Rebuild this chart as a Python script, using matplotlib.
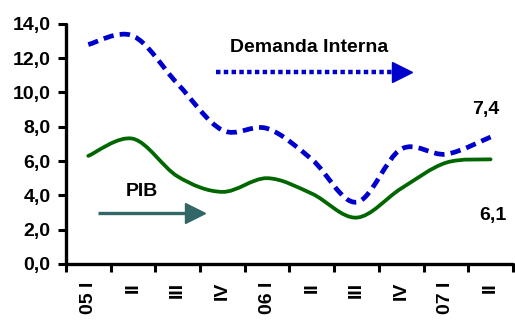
import matplotlib
matplotlib.use("Agg")
import matplotlib.pyplot as plt
from matplotlib.path import Path
from matplotlib.patches import PathPatch
from matplotlib.ticker import FuncFormatter
import numpy as np

plt.rcParams['font.family'] = ['Liberation Sans', 'DejaVu Sans']
plt.rcParams['font.weight'] = 'bold'

categories = ["05 I", "II", "III", "IV", "06 I", "II", "III", "IV", "07 I", "II"]
pib = [6.3, 7.3, 5.1, 4.2, 5.0, 4.1, 2.7, 4.4, 5.9, 6.1]
demanda = [12.8, 13.3, 10.5, 7.8, 7.9, 6.1, 3.6, 6.7, 6.4, 7.4]
yticks = [0, 2, 4, 6, 8, 10, 12, 14]


def smooth_path(xs, ys):
    pts = np.column_stack([xs, ys]).astype(float)
    n = len(pts)
    verts = [pts[0]]
    codes = [Path.MOVETO]
    for i in range(n - 1):
        p0 = pts[i - 1] if i > 0 else pts[i]
        p1 = pts[i]
        p2 = pts[i + 1]
        p3 = pts[i + 2] if i + 2 < n else pts[i + 1]
        c1 = p1 + (p2 - p0) / 6.0
        c2 = p2 - (p3 - p1) / 6.0
        verts += [c1, c2, p2]
        codes += [Path.CURVE4] * 3
    return Path(verts, codes)


fig = plt.figure(figsize=(5.15, 3.23), dpi=100)
ax = fig.add_axes([0.128, 0.183, 0.868, 0.743])

x = np.arange(len(categories))

blue = '#0000CC'
green = '#006600'
teal = '#336666'
fs = 14

p_dem = PathPatch(smooth_path(x, demanda), fill=False, edgecolor=blue, lw=3.4,
                  linestyle=(0, (2.2, 1.3)), capstyle='butt')
ax.add_patch(p_dem)
p_pib = PathPatch(smooth_path(x, pib), fill=False, edgecolor=green, lw=2.7,
                  capstyle='round')
ax.add_patch(p_pib)

ax.set_xlim(-0.5, 9.5)
ax.set_ylim(0, 14)

ax.set_yticks(yticks)
ax.yaxis.set_major_formatter(FuncFormatter(lambda v, p: f"{v:.1f}".replace('.', ',')))

ax.set_xticks(np.arange(-0.5, 10, 1.0))
ax.set_xticklabels([])
ax.set_xticks(x, minor=True)
ax.set_xticklabels(categories, minor=True, rotation=90, fontsize=fs,
                   fontweight='bold', va='top', ha='center')
ax.tick_params(axis='x', which='minor', length=0, pad=13)
ax.tick_params(axis='x', which='major', length=6, width=2.2, direction='out')
ax.tick_params(axis='y', which='major', length=6, width=2.2, direction='out',
               labelsize=fs, pad=5)
for lab in ax.get_yticklabels():
    lab.set_fontweight('bold')

for s in ['top', 'right']:
    ax.spines[s].set_visible(False)
for s in ['left', 'bottom']:
    ax.spines[s].set_linewidth(2.4)
    ax.spines[s].set_capstyle('round')

# annotations
ax.text(4.95, 12.6, "Demanda Interna", fontsize=fs, fontweight='bold',
        ha='center', va='center')
ax.plot([2.85, 6.85], [11.2, 11.2], color=blue, lw=3.2,
        linestyle=(0, (1.0, 0.75)), dash_capstyle='butt')
ax.plot([7.02], [11.2], marker='>', markersize=14, color=blue, mec=blue)

ax.text(1.2, 4.2, "PIB", fontsize=fs, fontweight='bold', ha='center', va='center')
ax.plot([0.21, 2.3], [2.98, 2.98], color=teal, lw=2.4, solid_capstyle='butt')
ax.plot([2.38], [2.98], marker='>', markersize=15, color=teal, mec=teal)

ax.text(8.9, 9.0, "7,4", fontsize=fs, fontweight='bold', ha='center', va='center')
ax.text(9.05, 2.85, "6,1", fontsize=fs, fontweight='bold', ha='center', va='center')

fig.savefig("out.png", dpi=100)
